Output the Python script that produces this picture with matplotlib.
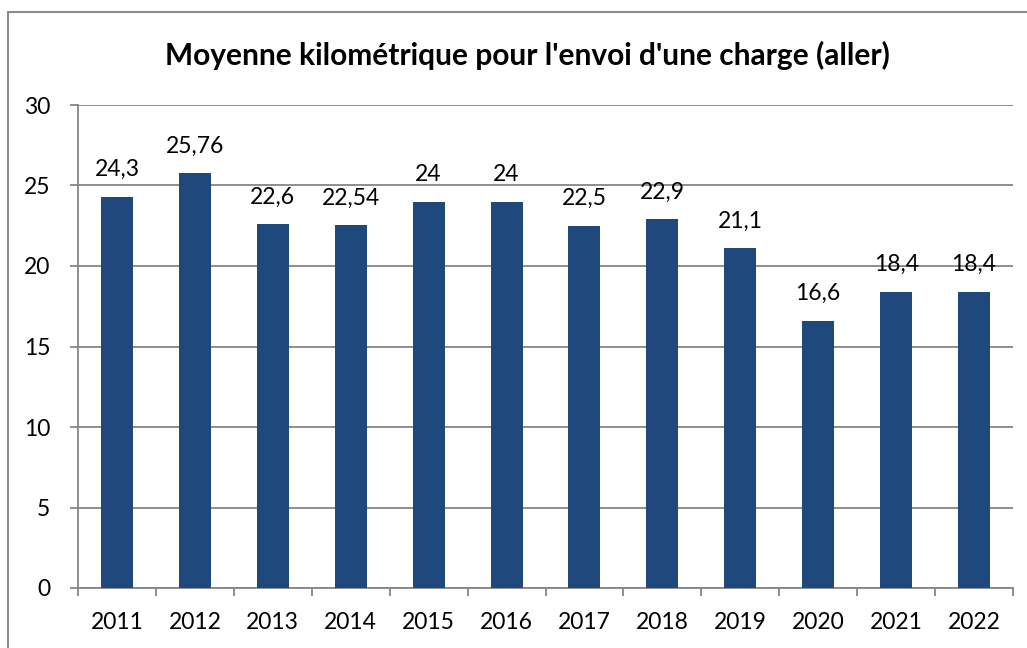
import matplotlib
matplotlib.use("Agg")
import matplotlib.pyplot as plt
from matplotlib.patches import Rectangle
import numpy as np

years = ["2011", "2012", "2013", "2014", "2015", "2016", "2017", "2018", "2019", "2020", "2021", "2022"]
values = [24.3, 25.76, 22.6, 22.54, 24, 24, 22.5, 22.9, 21.1, 16.6, 18.4, 18.4]
labels = ["24,3", "25,76", "22,6", "22,54", "24", "24", "22,5", "22,9", "21,1", "16,6", "18,4", "18,4"]
title = "Moyenne kilométrique pour l'envoi d'une charge (aller)"

plt.rcParams['font.family'] = ['Lato', 'DejaVu Sans']

W, H = 1027, 648
fig = plt.figure(figsize=(W / 100, H / 100), dpi=100)
fig.patch.set_facecolor("white")

# outer chart border
fig.add_artist(Rectangle((8 / W, -0.1), 1.2, 1 - 12 / H + 0.1, transform=fig.transFigure,
                         fill=False, edgecolor="#8c8c8c", linewidth=1.5))

ax = fig.add_axes([78 / W, 1 - 588 / H, (1013 - 78) / W, (588 - 105) / H])
x = np.arange(len(years))
ax.bar(x, values, width=0.41, color="#1F497D", zorder=3)
ax.set_xlim(-0.5, len(years) - 0.5)
ax.set_ylim(0, 30)
ax.set_yticks(range(0, 31, 5))
ax.yaxis.grid(True, color="#868686", linewidth=1.3, zorder=0)

for s in ["top", "right"]:
    ax.spines[s].set_visible(False)
for s in ["left", "bottom"]:
    ax.spines[s].set_color("#868686")
    ax.spines[s].set_linewidth(1.3)

ax.set_xticks(np.arange(-0.5, len(years), 1.0))
ax.set_xticklabels([])
ax.set_xticks(x, minor=True)
ax.set_xticklabels(years, minor=True)
ax.tick_params(axis="x", which="major", length=6, width=1.3, color="#868686")
ax.tick_params(axis="x", which="minor", length=0, pad=17, labelsize=16.5)
ax.tick_params(axis="y", length=6, width=1.3, color="#868686", pad=14, labelsize=16.5)

for xi, v, lab in zip(x, values, labels):
    ax.annotate(lab, (xi, v), xytext=(0, 12), textcoords="offset points",
                ha="center", va="bottom", fontsize=16.5)

fig.text(527 / W, 1 - 55 / H, title, ha="center", va="center", fontsize=21.5, fontweight="bold")

fig.savefig("out.png", dpi=100)
